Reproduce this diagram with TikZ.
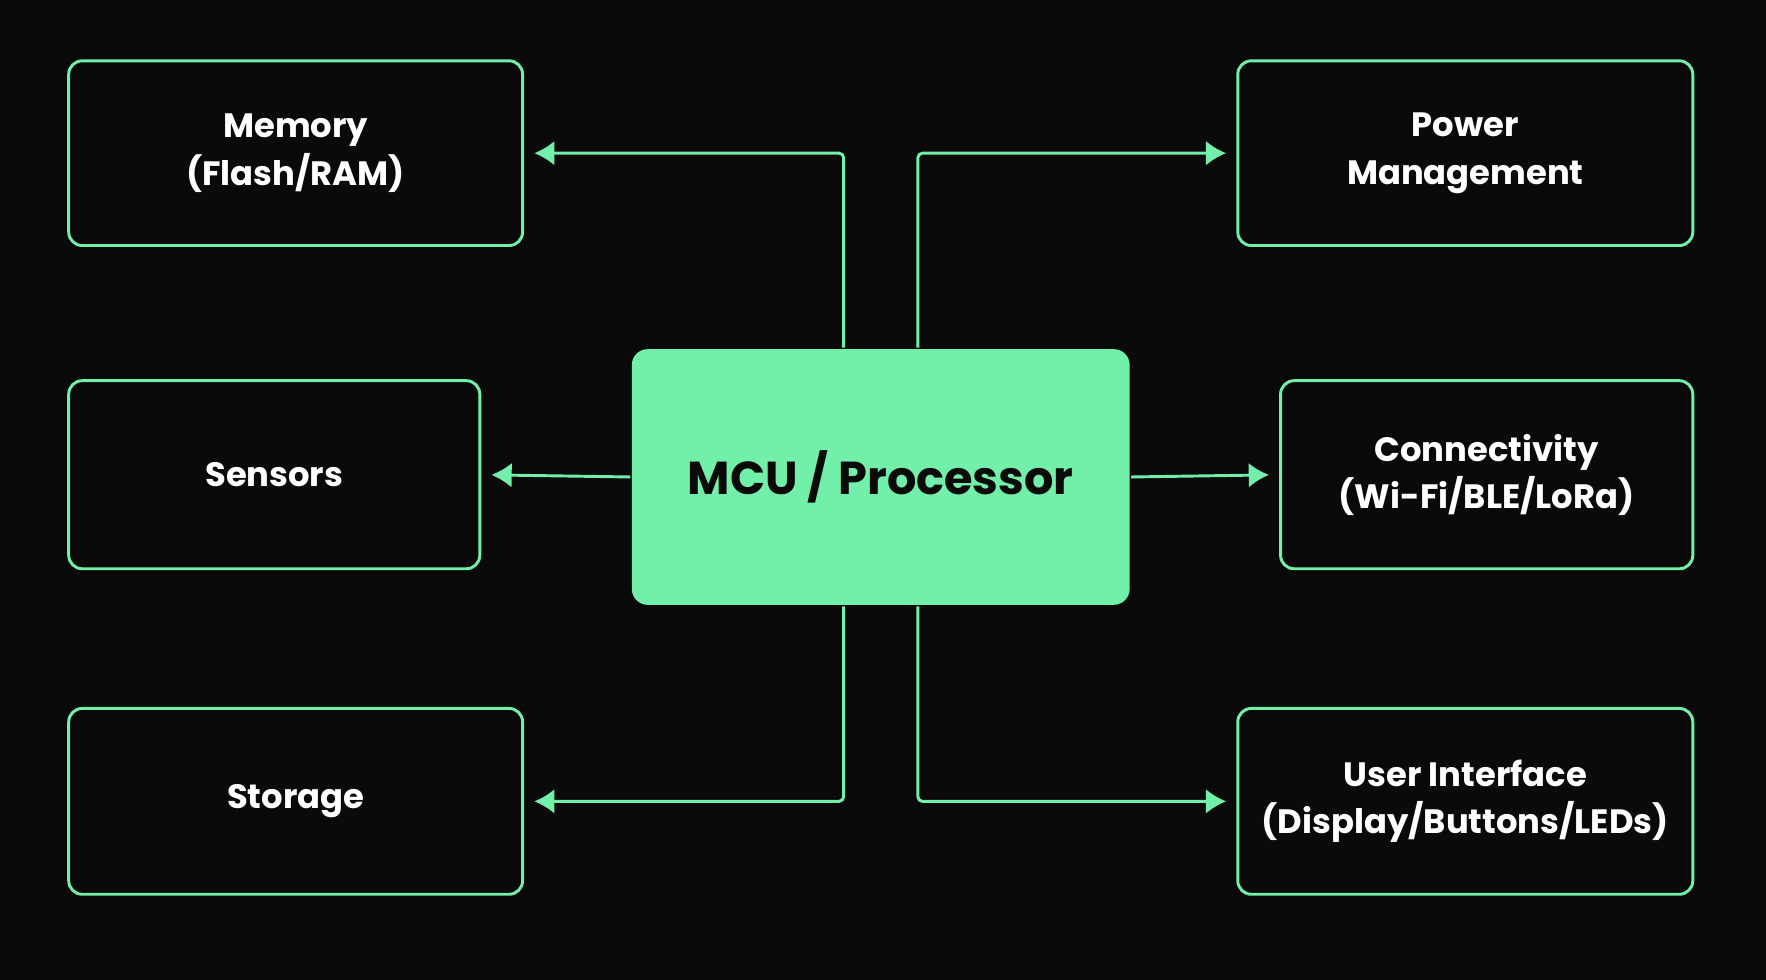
\documentclass[tikz,border=0pt]{standalone}
\usepackage{fontspec}
\setmainfont{Poppins}
\usetikzlibrary{arrows.meta}
\definecolor{mint}{HTML}{72EFA8}
\definecolor{bg}{HTML}{0A0A0A}
\tikzset{every picture/.style={line width=2.6pt}}
\tikzset{
  unit/.style={draw=mint,rounded corners=12pt,inner sep=0pt,align=center,text=white,
    font=\fontsize{30}{42}\selectfont\bfseries},
  core/.style={fill=mint,rounded corners=14pt,inner sep=0pt,text=bg,
    minimum width=442pt,minimum height=227pt,font=\fontsize{41}{48}\selectfont\bfseries},
  link/.style={draw=mint,-{Latex[length=18pt,width=22pt]},shorten >=9pt,rounded corners=4pt}
}

\begin{document}
\begin{tikzpicture}[x=1pt,y=1pt,yscale=-1]
	\fill[bg] (0,0) rectangle (1568,870);
	\useasboundingbox (0,0) rectangle (1568,870);
	
	% central block
	\node [core] (mcu) at (782,423.5) {MCU / Processor};
	
	% left column
	\node [unit,minimum width=403pt,minimum height=164pt] (mem) at (262.5,136) {Memory\\(Flash/RAM)};
	\node [unit,minimum width=365pt,minimum height=167pt] (sens) at (243.5,421.5) {Sensors};
	\node [unit,minimum width=403pt,minimum height=165pt] (stor) at (262.5,711.5) {Storage};
	
	% right column
	\node [unit,minimum width=404pt,minimum height=164pt] (pwr) at (1301,136) {Power\\Management};
	\node [unit,minimum width=366pt,minimum height=167pt] (conn) at (1320,421.5) {Connectivity\\(Wi-Fi/BLE/LoRa)};
	\node [unit,minimum width=404pt,minimum height=165pt] (ui) at (1301,711.5) {User Interface\\(Display/Buttons/LEDs)};
	
	% links
	\draw [link] ([xshift=-33pt]mcu.north) |- (mem.east);
	\draw [link] ([xshift=33pt]mcu.north) |- (pwr.west);
	\draw [link] (mcu.west) -- (sens.east);
	\draw [link] (mcu.east) -- (conn.west);
	\draw [link] ([xshift=-33pt]mcu.south) |- (stor.east);
	\draw [link] ([xshift=33pt]mcu.south) |- (ui.west);
	
\end{tikzpicture}
\end{document}
